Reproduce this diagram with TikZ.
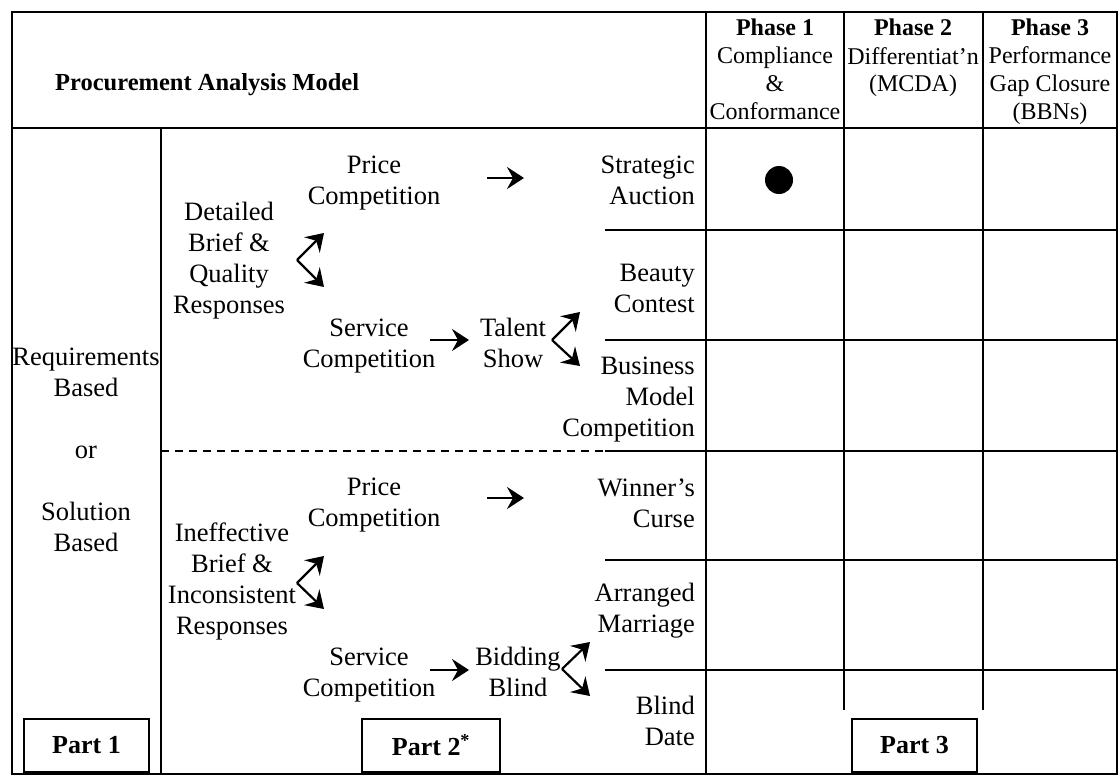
\documentclass[tikz,border=0pt]{standalone}
\usepackage{fontspec}
\setmainfont{Liberation Serif}
\usetikzlibrary{arrows.meta,positioning}
\tikzset{
  gridln/.style  = {line width=2pt},
  rowdash/.style = {line width=1.5pt, dash pattern=on 8pt off 6pt},
  bodytxt/.style = {font=\fontsize{26.5}{31}\selectfont, inner sep=0pt, align=center, anchor=base},
  headtxt/.style = {font=\fontsize{24}{28}\selectfont, inner sep=0pt, align=center, anchor=base},
  rowlbl/.style  = {bodytxt, align=right, anchor=base east},
  flowarr/.style = {-{Stealth[length=17pt,width=22pt,inset=6pt]}, line width=2.2pt},
  partbox/.style = {draw, line width=2pt, minimum height=53pt, inner sep=0pt,
                    font=\fontsize{26}{30}\selectfont\bfseries}
}

\begin{document}
\begin{tikzpicture}[x=1pt,y=-1pt]
  \useasboundingbox (0,0) rectangle (1119,776);
  % frame and grid
  \draw[gridln] (12,12) rectangle (1117,774);
  \draw[gridln] (12,128) -- (1117,128);
  \draw[gridln] (161,128) -- (161,774);
  \draw[gridln] (706,12) -- (706,774);
  \draw[gridln] (844,12) -- (844,710);
  \draw[gridln] (983,12) -- (983,710);
  \foreach \yy in {230,340,451,560,670}
    \draw[gridln] (605,\yy) -- (1117,\yy);
  \draw[rowdash] (161,451) -- (605,451);
  % header (base = last line)
  \node[headtxt,font=\fontsize{24.5}{28}\selectfont\bfseries,anchor=base west]
        (title) at (55,90) {Procurement Analysis Model};
  \node[headtxt] (ph1) at (775,119)  {\textbf{Phase 1}\\Compliance\\\&\\Conformance};
  \node[headtxt] (ph2) at (913,92)   {\textbf{Phase 2}\\Differentiat’n\\(MCDA)};
  \node[headtxt] (ph3) at (1050,119) {\textbf{Phase 3}\\Performance\\Gap Closure\\(BBNs)};
  % part 1
  \node[bodytxt] (basis) at (86,551)
        {Requirements\\Based\\[31pt]or\\[31pt]Solution\\Based};
  % part 2, upper half
  \node[bodytxt] (briefA)   at (229,313) {Detailed\\Brief \&\\Quality\\Responses};
  \node[bodytxt] (priceA)   at (374,204) {Price\\Competition};
  \node[bodytxt] (serviceA) at (369,367) {Service\\Competition};
  \node[bodytxt] (talent)   at (513,367) {Talent\\Show};
  % part 2, lower half
  \node[bodytxt] (briefB)   at (232,634) {Ineffective\\Brief \&\\Inconsistent\\Responses};
  \node[bodytxt] (priceB)   at (374,526) {Price\\Competition};
  \node[bodytxt] (serviceB) at (369,696) {Service\\Competition};
  \node[bodytxt] (bidding)  at (518,696) {Bidding\\Blind};
  % outcomes
  \node[rowlbl] (auction)  at (695,204) {Strategic\\Auction};
  \node[rowlbl] (beauty)   at (695,312) {Beauty\\Contest};
  \node[rowlbl] (business) at (695,436) {Business\\Model\\Competition};
  \node[rowlbl] (curse)    at (695,527) {Winner’s\\Curse};
  \node[rowlbl] (marriage) at (695,632) {Arranged\\Marriage};
  \node[rowlbl] (date)     at (695,745) {Blind\\Date};
  % arrow ends
  \coordinate (pA0) at (487,178); \coordinate (pA1) at (524,178);
  \coordinate (pB0) at (487,498); \coordinate (pB1) at (524,498);
  \coordinate (sA0) at (430,340); \coordinate (sA1) at (469,340);
  \coordinate (sB0) at (430,670); \coordinate (sB1) at (469,670);
  \coordinate (kA) at (297,260); \coordinate (kB) at (297,583);
  \coordinate (kT) at (552,340); \coordinate (kD) at (562,669);
  \draw[flowarr] (pA0) -- (pA1);
  \draw[flowarr] (pB0) -- (pB1);
  \draw[flowarr] (sA0) -- (sA1);
  \draw[flowarr] (sB0) -- (sB1);
  \draw[flowarr] (kA) -- ++(27,-27);
  \draw[flowarr] (kA) -- ++(27,27);
  \draw[flowarr] (kB) -- ++(27,-27);
  \draw[flowarr] (kB) -- ++(27,26);
  \draw[flowarr] (kT) -- ++(28,-28);
  \draw[flowarr] (kT) -- ++(28,26);
  \draw[flowarr] (kD) -- ++(28,-27);
  \draw[flowarr] (kD) -- ++(28,27);
  % marker
  \fill (779,180) circle (14pt);
  % part boxes
  \node[partbox,minimum width=125pt] (part1) at (86.5,745.5) {Part 1};
  \node[partbox,minimum width=138pt] (part2) at (431,745.5) {Part 2\textsuperscript{*}};
  \node[partbox,minimum width=125pt] (part3) at (914.5,745.5) {Part 3};
\end{tikzpicture}
\end{document}
